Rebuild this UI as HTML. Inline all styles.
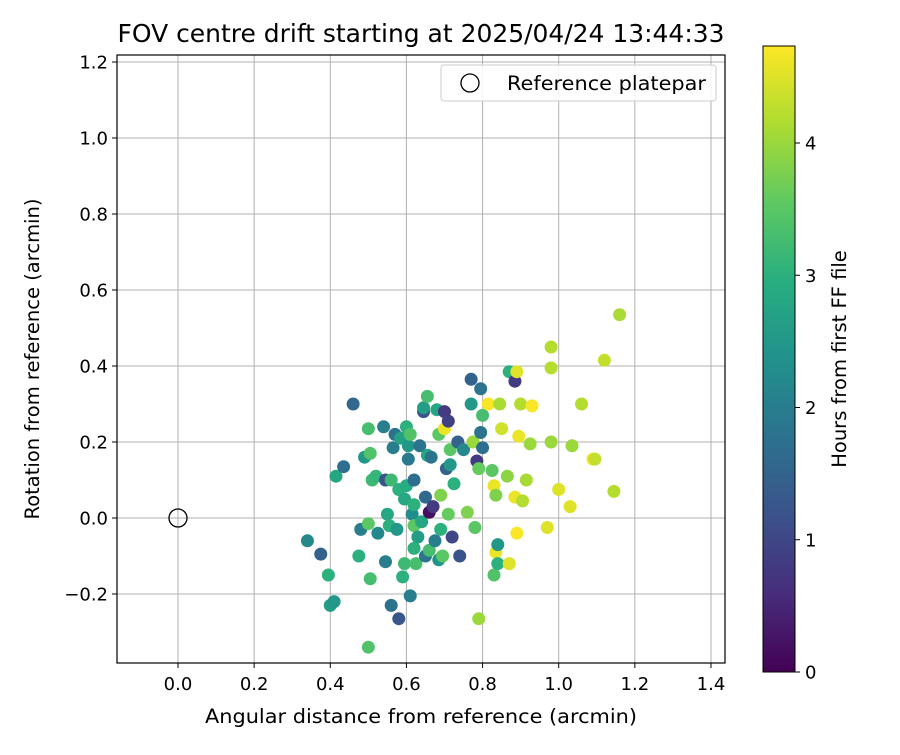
<!DOCTYPE html>
<html><head><meta charset="utf-8"><style>
body{margin:0;background:#fff;}
svg text{font-family:"DejaVu Sans","Liberation Sans",sans-serif;fill:#000;}
</style></head><body>
<svg id="chart" width="900" height="750" xmlns="http://www.w3.org/2000/svg">
<defs>
<linearGradient id="vir" x1="0" y1="1" x2="0" y2="0">
<stop offset="0" stop-color="#440154"/><stop offset="0.125" stop-color="#472d7b"/><stop offset="0.25" stop-color="#3b528b"/><stop offset="0.375" stop-color="#2c728e"/><stop offset="0.5" stop-color="#21918c"/><stop offset="0.625" stop-color="#28ae80"/><stop offset="0.75" stop-color="#5ec962"/><stop offset="0.875" stop-color="#addc30"/><stop offset="1" stop-color="#fde725"/>
</linearGradient>
</defs>
<text x="421" y="42" font-size="25" text-anchor="middle" textLength="607" lengthAdjust="spacingAndGlyphs">FOV centre drift starting at 2025/04/24 13:44:33</text>
<g id="grid"></g>
<g id="pts"></g>
<rect x="117" y="55" width="608" height="608" fill="none" stroke="#000" stroke-width="1.2"/>
<g id="ticks"></g>
<text x="421" y="723" font-size="19.5" text-anchor="middle" textLength="432" lengthAdjust="spacingAndGlyphs">Angular distance from reference (arcmin)</text>
<text transform="translate(39,359) rotate(-90)" font-size="19.5" text-anchor="middle">Rotation from reference (arcmin)</text>
<g>
<rect x="441" y="65" width="275" height="36" rx="3" fill="#fff" fill-opacity="0.85" stroke="#ccc"/>
<circle cx="470" cy="83" r="9" fill="none" stroke="#000" stroke-width="1.3"/>
<text x="507" y="90" font-size="19.5" textLength="199" lengthAdjust="spacingAndGlyphs">Reference platepar</text>
</g>
<rect x="763" y="46" width="32" height="626" fill="url(#vir)" stroke="#000" stroke-width="1"/>
<g id="cbt"></g>
<text transform="translate(846,359) rotate(-90)" font-size="19.5" text-anchor="middle">Hours from first FF file</text>
</svg>
<script>
const xTicks=[0.0,0.2,0.4,0.6,0.8,1.0,1.2,1.4];
const yTicks=[-0.2,0.0,0.2,0.4,0.6,0.8,1.0,1.2];
const cTicks=[0,1,2,3,4];
const xs=[0.46,0.34,0.375,0.395,0.40,0.41,0.415,0.435,0.475,0.48,0.49,0.50,0.50,0.505,0.51,0.505,0.50,0.52,0.525,0.54,0.545,0.545,0.55,0.555,0.56,0.56,0.565,0.57,0.575,0.58,0.58,0.585,0.59,0.595,0.595,0.60,0.60,0.605,0.605,0.61,0.61,0.615,0.62,0.62,0.62,0.62,0.625,0.63,0.635,0.64,0.645,0.645,0.65,0.65,0.655,0.655,0.66,0.66,0.665,0.67,0.675,0.68,0.685,0.685,0.69,0.69,0.695,0.70,0.70,0.705,0.71,0.71,0.715,0.715,0.72,0.725,0.735,0.74,0.75,0.76,0.77,0.77,0.775,0.78,0.785,0.79,0.79,0.795,0.795,0.80,0.80,0.815,0.825,0.83,0.83,0.835,0.835,0.84,0.84,0.845,0.85,0.865,0.87,0.87,0.885,0.885,0.89,0.89,0.895,0.90,0.905,0.915,0.925,0.93,0.97,0.98,0.98,0.98,1.00,1.03,1.035,1.06,1.09,1.095,1.12,1.145,1.16];
const ys=[0.30,-0.06,-0.095,-0.15,-0.23,-0.22,0.11,0.135,-0.10,-0.03,0.16,-0.015,0.235,0.17,0.10,-0.16,-0.34,0.11,-0.04,0.24,-0.115,0.10,0.01,-0.02,-0.23,0.10,0.185,0.22,-0.03,0.075,-0.265,0.21,-0.155,-0.12,0.05,0.085,0.24,0.155,0.19,-0.205,0.22,0.01,0.10,0.035,-0.02,-0.08,-0.12,-0.05,0.19,-0.01,0.28,0.29,0.055,-0.10,0.32,0.165,0.015,-0.085,0.16,0.03,-0.06,0.285,0.22,-0.11,-0.03,0.06,-0.10,0.28,0.235,0.13,0.255,0.01,0.14,0.18,-0.05,0.09,0.20,-0.10,0.18,0.015,0.365,0.30,0.20,-0.025,0.15,-0.265,0.13,0.34,0.225,0.185,0.27,0.30,0.125,0.085,-0.15,0.06,-0.09,-0.07,-0.12,0.30,0.235,0.11,0.385,-0.12,0.36,0.055,0.385,-0.04,0.215,0.30,0.045,0.10,0.195,0.295,-0.025,0.45,0.395,0.20,0.075,0.03,0.19,0.30,0.155,0.155,0.415,0.07,0.535];
const hours=[1.6,2.2,1.5,3,2.6,2.5,2.8,1.7,3.0,2.0,2.5,3.5,3.3,3.4,3.2,3.3,3.4,3.1,2.2,2.0,2.0,1.2,2.8,3.0,1.8,3.2,2.0,1.8,2.5,3.0,1.3,2.7,3.0,3.2,2.8,2.9,3.0,1.9,2.5,2.0,3.4,2.3,1.7,3.0,3.5,3.0,3.3,2.6,1.8,2.8,1.2,2.6,1.6,1.8,3.3,2.8,0.2,3.3,1.8,0.8,2.0,2.8,3.5,2.4,3.0,3.8,3.5,0.8,4.6,1.5,0.9,3.6,2.5,3.5,1.0,3.0,1.5,1.2,2.2,3.8,1.5,2.5,4.0,3.5,0.8,4.0,3.6,1.8,1.8,1.7,3.3,4.7,3.5,4.6,3.4,3.8,4.6,2.5,3.0,4.1,4.4,3.9,3.0,4.5,0.8,4.6,4.5,4.7,4.6,4.2,4.2,4.1,4.0,4.7,4.5,4.2,4.2,4.0,4.5,4.5,4.0,4.2,4.7,4.3,4.3,4.2,4.1];
const X=v=>178+v*380.7, Y=v=>518-v*380, C=h=>672-h*132.25, HMAX=4.73;
const vir=[[68,1,84],[71,45,123],[59,82,139],[44,114,142],[33,145,140],[40,174,128],[94,201,98],[173,220,48],[253,231,37]];
function col(h){let t=Math.max(0,Math.min(1,h/HMAX))*8,i=Math.min(7,Math.floor(t)),f=t-i;const a=vir[i],b=vir[i+1];return 'rgb('+a.map((v,k)=>Math.round(v+(b[k]-v)*f)).join(',')+')';}
const NS='http://www.w3.org/2000/svg';
function mk(p,tag,at){const e=document.createElementNS(NS,tag);for(const k in at)e.setAttribute(k,at[k]);document.getElementById(p).appendChild(e);return e;}
xTicks.forEach(v=>{
 const l=mk('grid','line',{x1:X(v),x2:X(v),y1:55,y2:663,stroke:'#b0b0b0','stroke-width':1});
 
 
 mk('ticks','line',{x1:X(v),x2:X(v),y1:663,y2:668,stroke:'#000'});
 const t=mk('ticks','text',{x:X(v),y:690,'font-size':18,'text-anchor':'middle'});t.textContent=v.toFixed(1);
 
 
});
yTicks.forEach(v=>{
 const l=mk('grid','line',{x1:117,x2:725,y1:Y(v),y2:Y(v),stroke:'#b0b0b0','stroke-width':1});
 
 
 mk('ticks','line',{x1:112,x2:117,y1:Y(v),y2:Y(v),stroke:'#000'});
 const t=mk('ticks','text',{x:108,y:Y(v)+6.5,'font-size':18,'text-anchor':'end'});t.textContent=(v<0?'\u2212':'')+Math.abs(v).toFixed(1);
 
 
});
cTicks.forEach(v=>{
 mk('cbt','line',{x1:795,x2:800,y1:C(v),y2:C(v),stroke:'#000'});
 const t=mk('cbt','text',{x:805,y:C(v)+6.5,'font-size':18});t.textContent=v;
 
 
});
xs.forEach((x,i)=>{
 const c=mk('pts','circle',{cx:X(x),cy:Y(ys[i]),r:6.5,fill:col(hours[i])});
 
 
});
const r=mk('pts','circle',{cx:X(0),cy:Y(0),r:9,fill:'none',stroke:'#000','stroke-width':1.3});


</script>
</body></html>
